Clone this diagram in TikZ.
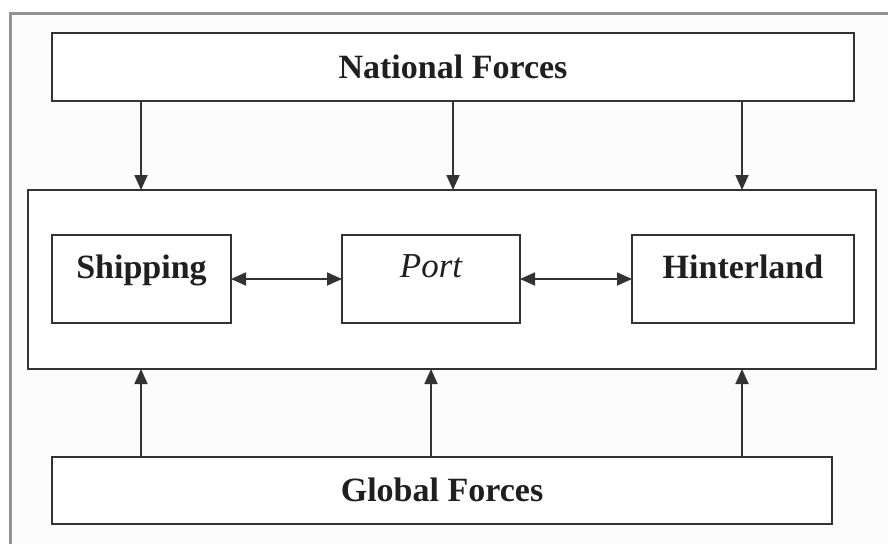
\documentclass[tikz,border=0pt]{standalone}
\usepackage{fontspec}
\setmainfont{Liberation Serif}
\usetikzlibrary{arrows.meta}
\definecolor{ink}{HTML}{333333}
\definecolor{framegray}{HTML}{939393}
\definecolor{paper}{HTML}{FCFCFC}
\begin{document}
\begin{tikzpicture}[x=1pt,y=-1pt,
  box/.style={draw=ink,line width=2pt,fill=white},
  lbl/.style={font=\fontsize{34}{36}\selectfont\bfseries,text=black!88},
  tip/.style={Triangle[length=15pt,width=13pt]},
  link/.style={draw=ink,line width=1.8pt,-{Triangle[length=15pt,width=13pt]}},
  duplex/.style={draw=ink,line width=1.8pt,{Triangle[length=15pt,width=13pt]}-{Triangle[length=15pt,width=13pt]}}]
  \useasboundingbox (0,0) rectangle (888,543);
  % page frame, open to the right and bottom
  \fill[paper] (10.5,13.5) rectangle (900,560);
  \draw[framegray,line width=3.5pt] (10.5,560) -- (10.5,13.5) -- (900,13.5);

  % outer boxes
  \draw[box] (52,33) rectangle (854,101);
  \node[lbl] (national) at (453,67) {National Forces};

  \draw[box] (28,190) rectangle (876,369);

  \draw[box] (52,457) rectangle (832,524);
  \node[lbl] (global) at (442,490) {Global Forces};

  % inner boxes
  \draw[box] (52,235) rectangle (231,323);
  \draw[box] (342,235) rectangle (520,323);
  \draw[box] (632,235) rectangle (854,323);
  \node[lbl,anchor=base] (ship) at (141.5,278) {Shipping};
  \node[font=\fontsize{35}{36}\selectfont\itshape,text=black!88,anchor=base] (port) at (431,277) {Port};
  \node[lbl,anchor=base] (hinter) at (743,278) {Hinterland};

  % anchor points on box edges
  \coordinate (n1) at (141,101); \coordinate (n2) at (453,101); \coordinate (n3) at (742,101);
  \coordinate (t1) at (141,190); \coordinate (t2) at (453,190); \coordinate (t3) at (742,190);
  \coordinate (b1) at (141,369); \coordinate (b2) at (431,369); \coordinate (b3) at (742,369);
  \coordinate (g1) at (141,457); \coordinate (g2) at (431,457); \coordinate (g3) at (742,457);
  \coordinate (sR) at (231,279); \coordinate (pL) at (342,279);
  \coordinate (pR) at (520,279); \coordinate (hL) at (632,279);

  % influences
  \draw[link] (n1) -- (t1);
  \draw[link] (n2) -- (t2);
  \draw[link] (n3) -- (t3);
  \draw[link] (g1) -- (b1);
  \draw[link] (g2) -- (b2);
  \draw[link] (g3) -- (b3);
  \draw[duplex] (sR) -- (pL);
  \draw[duplex] (pR) -- (hL);
\end{tikzpicture}
\end{document}
